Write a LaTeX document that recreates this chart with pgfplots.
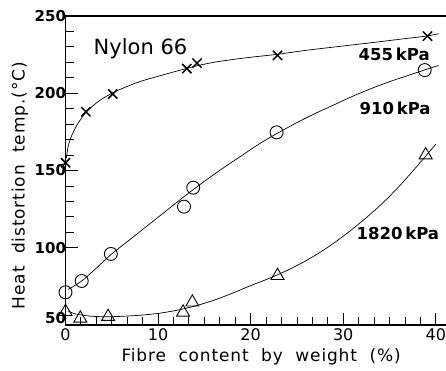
\documentclass[border=0pt]{standalone}
\usepackage{pgfplots}
\pgfplotsset{compat=1.18}
\usepackage{fontspec}
\setmainfont{DejaVu Sans}
\newfontfamily\labfont[LetterSpace=5,WordSpace=2]{DejaVu Sans}
\begin{document}
\begin{tikzpicture}
\begin{axis}[
  at={(0pt,0pt)}, anchor=south west,
  scale only axis, width=380.5pt, height=309pt,
  xmin=0, xmax=41.1, ymin=50, ymax=250,
  clip=false,
  axis line style={draw=none},
  tick pos=left, tick align=inside,
  xtick={0,10,20,30,40}, ytick={100,150,200,250},
  extra y ticks={50},
  extra y tick style={yticklabel style={yshift=7pt}},
  minor x tick num=5, minor y tick num=4,
  major tick length=12pt, minor tick length=8pt,
  every tick/.style={black, line width=0.9pt},
  /pgf/number format/assume math mode=true,
  xticklabel style={font=\fontsize{16}{16}\selectfont},
  yticklabel style={font=\bfseries\fontsize{15}{15}\selectfont, xshift=4pt},
  xlabel={\labfont\fontsize{17}{17}\selectfont Fibre content by weight (\%)},
  ylabel={\labfont\fontsize{17}{17}\selectfont Heat distortion temp.(°C)},
  every axis x label/.style={at={(axis description cs:0.514,-0.104)}, anchor=center},
  every axis y label/.style={at={(axis description cs:-0.1196,0.451)}, anchor=center, rotate=90},
]
% axis frame (left, bottom, top)
\draw[line width=1.6pt] (rel axis cs:1,1) -- (rel axis cs:0,1) -- (rel axis cs:0,0) -- (rel axis cs:1,0);

% fitted curves
\addplot[black, line width=0.7pt, smooth] coordinates {
 (0.1,158) (0.3,166) (0.7,173) (1.3,180) (2.2,187.5) (3.5,194.5) (5,200) (6.5,204)
 (8,207.5) (10,211) (12,214.3) (14,217.5) (16,220) (18,221.8) (20,223.3) (23,225.3)
 (26,227.8) (30,230.6) (34,233.4) (37,235.6) (39,237) (40.3,238.5)};
\addplot[black, line width=0.7pt, smooth] coordinates {
 (0.3,73) (1.75,78.5) (3,85) (5,96) (7,105.5) (9,115) (11,124.5) (13,134) (15,143)
 (17,151.5) (19,159.5) (21,167.5) (23,174.5) (25,181) (27,187) (29,192.5) (31,198)
 (33,203) (35,207.5) (37,211.5) (39,215.5) (40.3,218)};
\addplot[black, line width=0.7pt, smooth] coordinates {
 (0.3,59) (1,57.3) (2,56.2) (3,55.6) (4,55.4) (5,55.4) (6,55.6) (8,56.3) (10,57.5)
 (12,59.5) (14,62.3) (16,66) (18,70.5) (20,75.5) (22,80.2) (24,85.5) (26,91.7) (28,99)
 (30,107.5) (32,117) (34,127.5) (36,139.5) (38,153) (39,160) (40,167)};

% 455 kPa
\addplot[only marks, mark=x, mark size=6.5pt, mark options={line width=1.5pt}] coordinates {
 (0,155) (2.2,188) (5.1,199.5) (13.1,216) (14.2,219.5) (22.9,224.5) (39.1,237)};
% 910 kPa
\addplot[only marks, mark=o, mark size=6.5pt, mark options={fill=white, line width=0.9pt}] coordinates {
 (0,71.2) (1.75,78.5) (4.9,96) (12.8,126.6) (13.8,138.9) (22.8,174.7) (38.8,215)};
% 1820 kPa
\addplot[only marks, mark=triangle, mark size=7.5pt, mark options={fill=white, line width=0.9pt}] coordinates {
 (0,58.6) (1.6,54.3) (4.6,55.4) (12.7,58.2) (13.7,64.7) (22.9,81.9) (38.9,160)};

\node[font=\fontsize{21}{21}\selectfont] at (axis cs:8.1,228.6) {Nylon 66};
\node[font=\bfseries\fontsize{16.5}{16.5}\selectfont] at (axis cs:35.5,225.1) {455\,kPa};
\node[font=\bfseries\fontsize{16.5}{16.5}\selectfont] at (axis cs:35.6,190.1) {910\,kPa};
\node[font=\bfseries\fontsize{16.5}{16.5}\selectfont] at (axis cs:35.9,109.2) {1820\,kPa};
\end{axis}
\pgfresetboundingbox
\path (-65.5pt,-45pt) rectangle (380.5pt,325pt);
\end{tikzpicture}
\end{document}
